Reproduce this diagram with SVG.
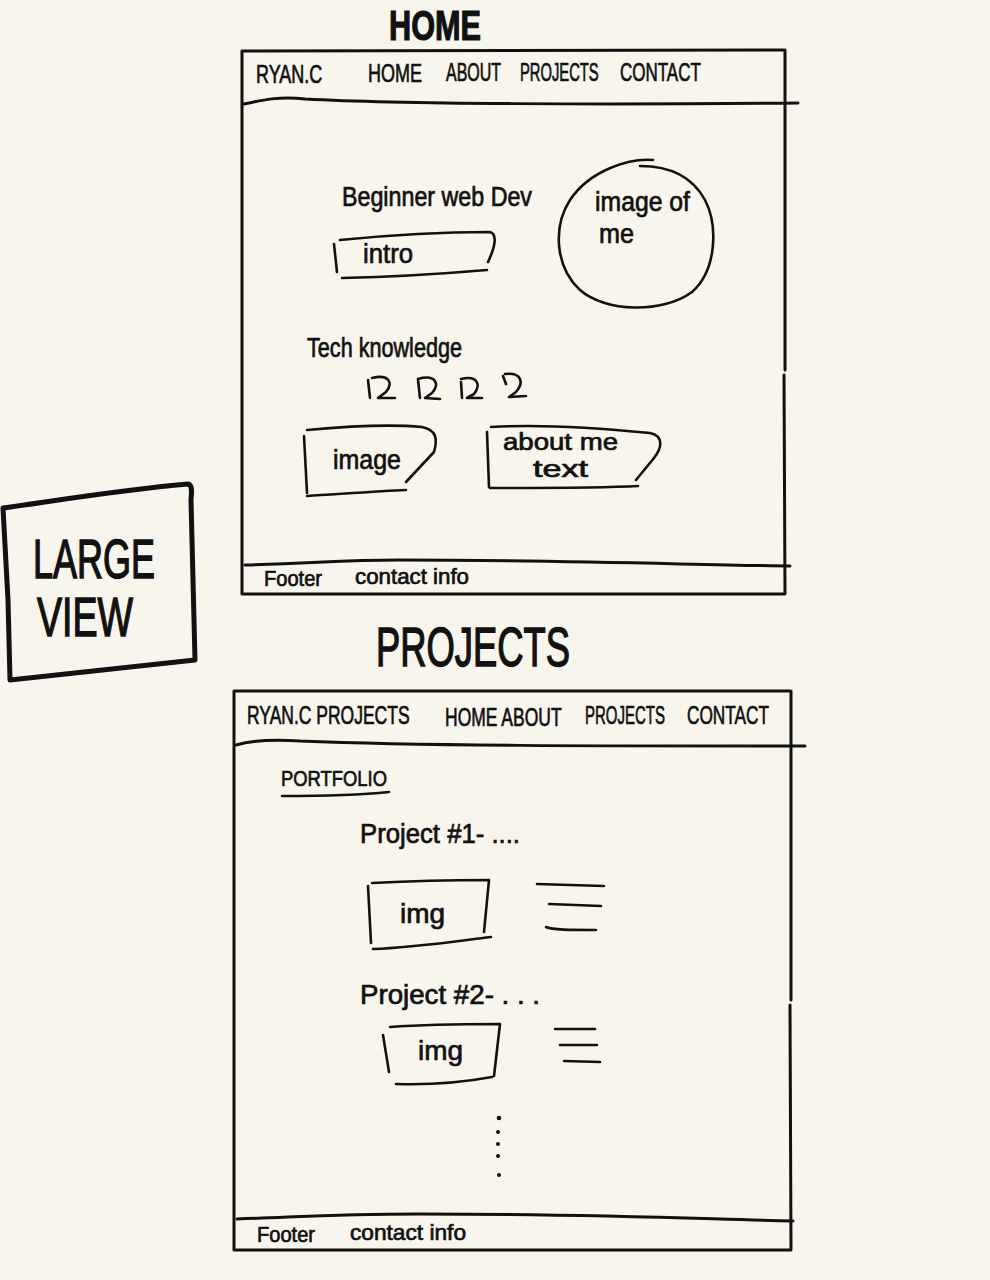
<svg xmlns="http://www.w3.org/2000/svg" width="990" height="1280" viewBox="0 0 990 1280">
  <style>
    .bg { fill: #f8f6ec; }
    .ink { fill: none; stroke: #111; stroke-width: 3; stroke-linecap: round; stroke-linejoin: round; }
    .thin { fill: none; stroke: #111; stroke-width: 2.6; stroke-linecap: round; stroke-linejoin: round; }
    .heavy { fill: none; stroke: #111; stroke-width: 5; stroke-linecap: round; stroke-linejoin: round; }
    text { font-family: "Liberation Sans", "DejaVu Sans", sans-serif; fill: #111; stroke: #111; stroke-width: 0.7; }
    .nav { font-size: 25px; }
    .hand { font-size: 27px; }
    .pair { font-size: 23px; }
    .small { font-size: 22px; }
    .title { font-size: 42px; font-weight: bold; stroke-width: 1.2; }
    .big { font-size: 56px; stroke-width: 1.5; }
    .dot { fill: #111; }
  </style>

  <rect class="bg" x="0" y="0" width="990" height="1280"/>

  <!-- HOME page sketch -->
  <g id="home-title">
    <text class="title" x="389" y="40" textLength="92" lengthAdjust="spacingAndGlyphs">HOME</text>
  </g>

  <g id="home-frame">
    <path class="ink" d="M242 51 L785 50 L785 370 M784 375 L785 594 L242 594 L242 51"/>
    <path class="ink" d="M244 104 C262 100 280 96 305 99 C400 104 600 105 798 103"/>
    <path class="ink" d="M245 565 C320 563 340 560 400 560 C560 560 700 565 790 566"/>
  </g>

  <!-- nav labels: narrow, tall lettering via horizontal scaling -->
  <g id="home-nav">
    <text class="nav" transform="translate(256 83) scale(0.72 1)">RYAN.C</text>
    <text class="nav" transform="translate(368 82) scale(0.72 1)">HOME</text>
    <text class="nav" transform="translate(446 81) scale(0.64 1)">ABOUT</text>
    <text class="nav" transform="translate(520 81) scale(0.59 1)">PROJECTS</text>
    <text class="nav" transform="translate(620 81) scale(0.68 1)">CONTACT</text>
  </g>

  <g id="home-intro">
    <text class="hand" x="342" y="206" textLength="190" lengthAdjust="spacingAndGlyphs">Beginner web Dev</text>
    <path class="thin" d="M334 244 L337 272"/>
    <path class="thin" d="M340 240 C380 236 440 232 490 232 C497 234 496 245 488 262"/>
    <path class="thin" d="M342 278 C390 277 440 274 487 270"/>
    <text class="hand" x="363" y="263" textLength="50" lengthAdjust="spacingAndGlyphs">intro</text>
  </g>

  <g id="home-photo">
    <path class="thin" d="M653 160 C630 158 590 170 570 200 C552 228 556 268 580 290 C605 312 662 314 692 292 C717 270 718 225 705 200 C692 176 668 166 640 166"/>
    <text class="hand" x="595" y="211" textLength="95" lengthAdjust="spacingAndGlyphs">image of</text>
    <text class="hand" x="599" y="243" textLength="35" lengthAdjust="spacingAndGlyphs">me</text>
  </g>

  <g id="home-tech">
    <text class="hand" x="307" y="357" textLength="155" lengthAdjust="spacingAndGlyphs">Tech knowledge</text>
    <path class="thin" d="M368 380 L370 398 M372 378 C388 374 394 382 386 392 L378 398 L395 398"/>
    <path class="thin" d="M418 380 L420 398 M418 379 C436 374 440 384 432 393 L425 398 L440 399"/>
    <path class="thin" d="M461 382 L462 398 M461 379 C478 375 481 385 474 394 L467 398 L482 398"/>
    <path class="thin" d="M503 376 L506 384 M505 374 C522 372 524 383 516 392 L509 397 L526 396"/>
  </g>

  <g id="home-image">
    <path class="thin" d="M304 436 L307 493"/>
    <path class="thin" d="M307 430 C350 426 390 424 422 427 C436 430 438 438 434 452 L406 482"/>
    <path class="thin" d="M307 496 C340 494 380 491 406 490"/>
    <text class="hand" x="333" y="469" textLength="68" lengthAdjust="spacingAndGlyphs">image</text>
  </g>

  <g id="home-about">
    <path class="thin" d="M487 432 L489 487"/>
    <path class="thin" d="M491 427 C540 424 600 428 650 433 C664 436 662 448 654 458 L636 480"/>
    <path class="thin" d="M490 488 C540 488 600 488 638 486"/>
    <text class="pair" x="503" y="450" textLength="115" lengthAdjust="spacingAndGlyphs">about me</text>
    <text class="pair" x="533" y="477" textLength="55" lengthAdjust="spacingAndGlyphs">text</text>
  </g>

  <g id="home-footer">
    <text class="small" x="264" y="586" textLength="58" lengthAdjust="spacingAndGlyphs">Footer</text>
    <text class="small" x="355" y="584" textLength="114" lengthAdjust="spacingAndGlyphs">contact info</text>
  </g>

  <!-- view label -->
  <g id="large-view">
    <path class="heavy" d="M3 508 C60 500 120 490 188 484 C192 485 192 490 191 500 L195 660 C150 665 80 672 10 680 L8 600 L3 508"/>
    <text class="big" x="33" y="578" textLength="122" lengthAdjust="spacingAndGlyphs">LARGE</text>
    <text class="big" x="37" y="636" textLength="96" lengthAdjust="spacingAndGlyphs">VIEW</text>
  </g>

  <!-- PROJECTS page sketch -->
  <g id="projects-title">
    <text class="big" x="376" y="666" textLength="194" lengthAdjust="spacingAndGlyphs">PROJECTS</text>
  </g>

  <g id="projects-frame">
    <path class="ink" d="M234 691 L791 691 L791 1000 M790 1005 L791 1250 L234 1250 L234 691"/>
    <path class="ink" d="M236 745 C250 741 270 739 300 741 C420 746 600 746 805 746"/>
    <path class="ink" d="M237 1219 C300 1217 330 1214 420 1214 C600 1214 700 1219 793 1221"/>
  </g>

  <g id="projects-nav">
    <text class="nav" transform="translate(247 724) scale(0.7 1)">RYAN.C PROJECTS</text>
    <text class="nav" transform="translate(445 726) scale(0.7 1)">HOME ABOUT</text>
    <text class="nav" transform="translate(585 724) scale(0.6 1)">PROJECTS</text>
    <text class="nav" transform="translate(687 724) scale(0.69 1)">CONTACT</text>
  </g>

  <g id="portfolio">
    <text class="small" x="281" y="786" textLength="106" lengthAdjust="spacingAndGlyphs" font-size="19">PORTFOLIO</text>
    <path class="thin" d="M282 796 C320 796 360 795 389 792"/>
  </g>

  <g id="project-1">
    <text class="hand" x="360" y="843" textLength="160" lengthAdjust="spacingAndGlyphs">Project #1- ....</text>
    <path class="thin" d="M368 886 L371 943"/>
    <path class="thin" d="M372 883 C410 881 450 880 489 880 L484 932"/>
    <path class="thin" d="M373 949 C410 948 450 942 491 937"/>
    <text class="hand" x="400" y="923" textLength="45" lengthAdjust="spacingAndGlyphs">img</text>
    <path class="thin" d="M537 884 L604 886"/>
    <path class="thin" d="M549 904 L601 906"/>
    <path class="thin" d="M546 927 C552 930 570 930 596 930"/>
  </g>

  <g id="project-2">
    <text class="hand" x="360" y="1004" textLength="180" lengthAdjust="spacingAndGlyphs">Project #2- . . .</text>
    <path class="thin" d="M383 1035 L389 1072"/>
    <path class="thin" d="M390 1027 C430 1024 470 1024 500 1024 L494 1076"/>
    <path class="thin" d="M396 1084 C430 1085 465 1082 492 1077"/>
    <text class="hand" x="418" y="1060" textLength="45" lengthAdjust="spacingAndGlyphs">img</text>
    <path class="thin" d="M555 1029 L595 1029"/>
    <path class="thin" d="M560 1045 L597 1045"/>
    <path class="thin" d="M564 1061 L600 1062"/>
  </g>

  <g id="more-dots">
    <circle class="dot" cx="499" cy="1118" r="2.3"/>
    <circle class="dot" cx="498" cy="1132" r="2"/>
    <circle class="dot" cx="498" cy="1144" r="2"/>
    <circle class="dot" cx="498" cy="1156" r="2"/>
    <circle class="dot" cx="499" cy="1175" r="2"/>
  </g>

  <g id="projects-footer">
    <text class="small" x="257" y="1242" textLength="58" lengthAdjust="spacingAndGlyphs">Footer</text>
    <text class="small" x="350" y="1240" textLength="116" lengthAdjust="spacingAndGlyphs">contact info</text>
  </g>
</svg>
